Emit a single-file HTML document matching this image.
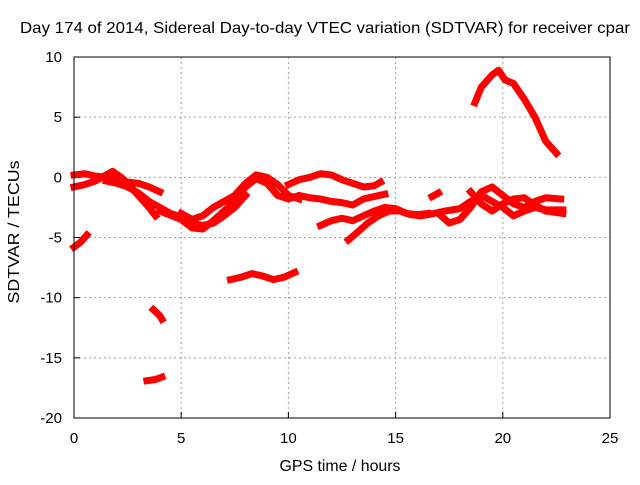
<!DOCTYPE html>
<html><head><meta charset="utf-8"><style>
body{margin:0;background:#fff}
svg text{font-family:"Liberation Sans",sans-serif;font-size:15px;fill:#000}
</style></head><body>
<svg id="chart" width="640" height="480">
<text x="325" y="33" text-anchor="middle" textLength="610" lengthAdjust="spacingAndGlyphs" style="font-size:16px">Day 174 of 2014, Sidereal Day-to-day VTEC variation (SDTVAR) for receiver cpar</text>
<text x="340" y="471" text-anchor="middle" textLength="121" lengthAdjust="spacingAndGlyphs" style="font-size:16px">GPS time / hours</text>
<text transform="translate(19,232) rotate(-90)" text-anchor="middle" textLength="143" lengthAdjust="spacingAndGlyphs" style="font-size:16px">SDTVAR / TECUs</text>
<g id="grid"></g><g id="axes"></g><g id="series"></g>
<rect x="74" y="57" width="536" height="361" fill="none" stroke="#000" stroke-width="1"/>
</svg>
<script>
const xTicks=[0,5,10,15,20,25];
const yTicks=[10,5,0,-5,-10,-15,-20];
const track1=[[0,0.2],[0.5,0.3],[1,0.1],[1.5,0],[2,-0.2],[2.5,-0.4],[3,-0.5],[3.5,-0.8],[4,-1.2]];
const track2=[[0,-0.8],[0.5,-0.6],[1,-0.3],[1.5,0.2],[1.8,0.5],[2.2,0],[2.5,-0.5],[3,-1.5],[3.5,-2.5],[3.8,-3.2]];
const track3=[[1.5,-0.3],[2,-0.5],[2.5,-0.8],[3,-1.3],[3.5,-2],[4,-2.5],[4.5,-3],[5,-3.3],[5.5,-3.8],[6,-4],[6.5,-3.8],[7,-3.2],[7.5,-2.5],[8,-1.5]];
const track4=[[4,-2.8],[5,-3.5],[5.5,-4.2],[6,-4.3],[6.5,-3.6],[7,-2.8],[7.5,-2],[8,-0.8],[8.5,-0.1],[9,-0.5],[9.5,-1.5],[10,-1.8],[10.5,-1.5],[11,-1.7],[11.5,-1.8],[12,-2],[12.5,-2.1],[13,-2.3],[13.5,-1.8],[14,-1.6],[14.5,-1.4]];
const track5=[[5,-3],[5.5,-3.5],[6,-3.2],[6.5,-2.5],[7,-2],[7.5,-1.5],[8,-0.5],[8.5,0.2],[9,0],[9.5,-0.6],[10,-1.5],[10.5,-1.8]];
const track6=[[10,-0.6],[10.5,-0.2],[11,0],[11.5,0.3],[12,0.2],[12.5,-0.2],[13,-0.5],[13.5,-0.8],[14,-0.7],[14.3,-0.4]];
const track7=[[11.5,-4],[12,-3.6],[12.5,-3.4],[13,-3.6],[13.5,-3.2],[14,-2.8],[14.5,-2.5],[15,-2.6],[15.5,-3],[16,-3.1],[16.5,-3]];
const track8=[[12.8,-5.2],[13.2,-4.6],[13.7,-3.8],[14.2,-3.2],[14.7,-2.8],[15.2,-2.8],[15.7,-3.1],[16.2,-3.2],[16.8,-3],[17.3,-2.8],[18,-2.6],[18.5,-2],[19,-1.5],[19.5,-2],[20,-2.5],[20.5,-3.2],[21,-2.8],[21.5,-2.5],[22,-2.7],[22.8,-2.7]];
const track9=[[16.7,-1.6],[17,-1.3]];
const track10=[[17,-3],[17.5,-3.8],[18,-3.5],[18.5,-2.5],[19,-1.2],[19.5,-0.8],[20,-1.5],[20.5,-2.2],[21,-2.5],[21.5,-2],[22,-1.7],[22.7,-1.8]];
const track11=[[18.5,-1.2],[19,-2.2],[19.5,-2.8],[20,-2.2],[20.5,-1.8],[21,-1.7],[21.5,-2.3],[22,-2.8],[22.8,-3]];
const track12=[[18.7,6.2],[19,7.5],[19.5,8.5],[19.8,8.9],[20.1,8.1],[20.5,7.8],[21,6.5],[21.5,5],[22,3],[22.5,2]];
const track13=[[0,-5.8],[0.3,-5.4],[0.6,-4.8]];
const track14=[[7.3,-8.5],[7.8,-8.3],[8.3,-8],[8.8,-8.2],[9.3,-8.5],[9.8,-8.3],[10.3,-7.9]];
const track15=[[3.7,-11],[4,-11.5],[4.1,-11.8]];
const track16=[[3.4,-16.9],[3.8,-16.8],[4.1,-16.6]];
const tracks=[track1,track2,track3,track4,track5,track6,track7,track8,track9,track10,track11,track12,track13,track14,track15,track16];
const NS="http://www.w3.org/2000/svg";
const X=v=>74+v*(536/25);
const Y=v=>418-(v+20)*(361/30);
const grid=document.getElementById('grid'),axes=document.getElementById('axes'),ser=document.getElementById('series');
function mk(tag,at,parent){const e=document.createElementNS(NS,tag);for(const k in at)e.setAttribute(k,at[k]);parent.appendChild(e);return e;}
xTicks.forEach(t=>{
  if(t>0&&t<25){const g=mk('line',{x1:X(t),x2:X(t),y1:57,y2:418,stroke:'#a0a0a0','stroke-dasharray':'2,3'},grid);
  
  }
  const l=mk('text',{x:X(t),y:443,'text-anchor':'middle'},axes);l.textContent=t;
  
  
  mk('line',{x1:X(t),x2:X(t),y1:418,y2:412,stroke:'#000'},axes);
});
yTicks.forEach(t=>{
  if(t<10&&t>-20){const g=mk('line',{x1:74,x2:610,y1:Y(t),y2:Y(t),stroke:'#a0a0a0','stroke-dasharray':'2,3'},grid);
  
  }
  const l=mk('text',{x:62,y:Y(t)+5,'text-anchor':'end'},axes);l.textContent=t;
  
  
  mk('line',{x1:74,x2:80,y1:Y(t),y2:Y(t),stroke:'#000'},axes);
});
tracks.forEach((tr,i)=>{
  const p=mk('polyline',{points:tr.map(d=>X(d[0])+','+Y(d[1])).join(' '),fill:'none',stroke:'#ff0000','stroke-width':7,'stroke-linejoin':'round','stroke-linecap':'square'},ser);
  
  
});
</script>
</body></html>
